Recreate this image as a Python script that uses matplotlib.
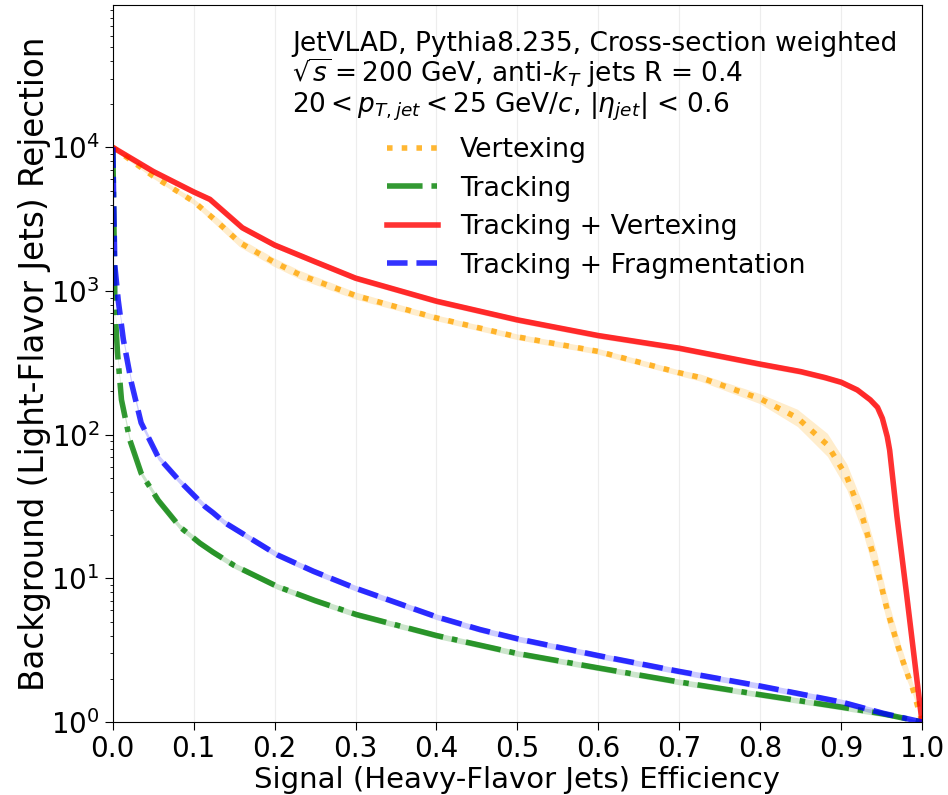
import numpy as np
import matplotlib
matplotlib.use("Agg")
import matplotlib.pyplot as plt

# ROC curves (efficiency, rejection)
vtx_eff = [0.0, 0.05, 0.1, 0.13, 0.157, 0.2, 0.231, 0.3, 0.4, 0.5, 0.6, 0.7, 0.726,
           0.8, 0.846, 0.883, 0.907, 0.927, 0.944, 0.957, 0.973, 0.989, 1.0]
vtx_rej = [1e4, 6300, 4200, 3000, 2170, 1580, 1300, 930, 650, 480, 380, 270, 250,
           178, 131, 85, 51, 26, 12, 6.0, 3.0, 1.67, 1.0]
vtx_err = [0.01, 0.015, 0.02, 0.03, 0.03, 0.03, 0.03, 0.025, 0.02, 0.02, 0.02, 0.02, 0.025,
           0.035, 0.06, 0.08, 0.09, 0.1, 0.1, 0.09, 0.07, 0.04, 0.0]

trk_eff = [0.0, 0.0015, 0.0025, 0.0058, 0.0107, 0.021, 0.035, 0.056, 0.083, 0.1075, 0.124,
           0.15, 0.203, 0.25, 0.301, 0.4, 0.5, 0.6, 0.7, 0.8, 0.9, 0.952, 1.0]
trk_rej = [1e4, 2500, 780, 372, 175, 92, 54, 35, 22.8, 17.6, 15.2,
           12.3, 8.8, 7.0, 5.6, 4.0, 3.0, 2.38, 1.9, 1.55, 1.27, 1.14, 1.0]

tv_eff = [0.0, 0.05, 0.1, 0.12, 0.16, 0.2, 0.25, 0.3, 0.4, 0.5, 0.6, 0.7, 0.8, 0.85,
          0.88, 0.9, 0.92, 0.936, 0.945, 0.951, 0.957, 0.96, 0.969, 0.981, 0.994, 1.0]
tv_rej = [1e4, 6800, 4900, 4350, 2760, 2090, 1600, 1230, 850, 630, 490, 400, 310, 275,
          250, 232, 205, 175, 155, 130, 97, 78, 27, 7.7, 1.9, 1.0]

tf_eff = [0.0, 0.0015, 0.0025, 0.0066, 0.013, 0.023, 0.035, 0.056, 0.082, 0.114, 0.124,
          0.138, 0.203, 0.248, 0.301, 0.4, 0.454, 0.5, 0.6, 0.7, 0.8, 0.9, 0.952, 1.0]
tf_rej = [1e4, 3000, 1500, 870, 460, 230, 121, 70, 48, 31.6, 28.6,
          24.5, 14.6, 11.2, 8.5, 5.4, 4.4, 3.8, 2.9, 2.25, 1.78, 1.38, 1.15, 1.0]

labels = ["Vertexing", "Tracking", "Tracking + Vertexing", "Tracking + Fragmentation"]
colors = ["orange", "green", "red", "blue"]
styles = [":", "-.", "-", "--"]

fig = plt.figure(figsize=(9.48, 7.95), dpi=100)
ax = fig.add_axes([0.119, 0.0918, 0.8536, 0.9019])

curves = [(vtx_eff, vtx_rej, vtx_err), (trk_eff, trk_rej, None),
          (tv_eff, tv_rej, None), (tf_eff, tf_rej, None)]
for (x, y, err), lab, c, ls in zip(curves, labels, colors, styles):
    x = np.array(x)
    y = np.array(y)
    if err is None:
        err = np.full(len(y), 0.02)
        err[-1] = 0.0
    err = np.array(err)
    ax.fill_between(x, y * 10 ** (-err), y * 10 ** err, color=c, alpha=0.2, lw=0)
    ax.plot(x, y, ls, color=c, alpha=0.8, lw=4, label=lab)

ax.set_yscale("log")
ax.set_xlim(0, 1)
ax.set_ylim(1, 9.8e4)
ax.set_xticks(np.arange(0, 1.01, 0.1))
ax.grid(axis="x", color="lightgray", alpha=0.4)
ax.tick_params(axis="both", which="major", labelsize=20, length=6)
ax.set_xlabel("Signal (Heavy-Flavor Jets) Efficiency", fontsize=21, labelpad=2)
ax.set_ylabel("Background (Light-Flavor Jets) Rejection", fontsize=23.5, labelpad=0)

# info block, one text per line
info = ["JetVLAD, Pythia8.235, Cross-section weighted",
        r"$\sqrt{s} = 200$ GeV, anti-$k_{T}$ jets R = 0.4",
        r"$20 < p_{T,jet} < 25$ GeV/$c$, $|\eta_{jet}|$ < 0.6"]
for i, line in enumerate(info):
    ax.text(0.222, 0.9358 - i * 0.0432, line, transform=ax.transAxes,
            ha="left", va="baseline", fontsize=19)

ax.legend(loc="upper left", bbox_to_anchor=(0.326, 0.831), borderaxespad=0,
          frameon=False, fontsize=19.3, handlelength=1.9, handletextpad=0.8,
          labelspacing=0.47)

fig.savefig("out.png", dpi=100)
